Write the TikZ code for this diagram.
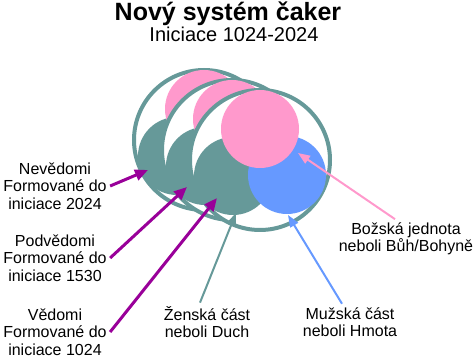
\documentclass[tikz,border=0pt]{standalone}
\usepackage{fontspec}
\setmainfont{Liberation Sans}
\usetikzlibrary{positioning,arrows.meta}
\definecolor{RingTeal}{HTML}{669999}
\definecolor{SoulPink}{HTML}{FF99CC}
\definecolor{MatterBlue}{HTML}{6699FF}
\definecolor{LayerPurple}{HTML}{990099}

\begin{document}
\begin{tikzpicture}[x=1pt,y=-1pt,
    every node/.style={font=\fontsize{16}{17.5}\selectfont, align=center},
    layer/.style={draw=LayerPurple, line width=3pt, -{Triangle[length=13pt,width=11pt]}},
    part/.style={line width=2pt, -{Triangle[length=12pt,width=9pt]}}]
  \useasboundingbox (0,0) rectangle (475,358);

  % title
  \node[font=\bfseries\fontsize{25}{28}\selectfont, anchor=base] (title) at (228,21) {Nový systém čaker};
  \node[font=\fontsize{20}{22}\selectfont, anchor=base] (subtitle) at (234,42) {Iniciace 1024-2024};

  % three chakra systems, back to front
  \foreach \cx/\cy in {204/140, 232/150, 260/160}{
    \draw[RingTeal, fill=white, line width=4pt] (\cx,\cy) circle[radius=70];
    \fill[RingTeal] (\cx-27,\cy+16) circle[radius=39];
    \fill[MatterBlue] (\cx+27,\cy+15) circle[radius=39];
    \fill[SoulPink] (\cx,\cy-31) circle[radius=39];
  }

  % labels
  \node (nev) at (55,186) {Nevědomi\\Formované do\\iniciace 2024};
  \node (pod) at (55,258) {Podvědomi\\Formované do\\iniciace 1530};
  \node (ved) at (55,332) {Vědomi\\Formované do\\iniciace 1024};
  \node (zen) at (207,322) {Ženská část\\neboli Duch};
  \node (muz) at (350,322) {Mužská část\\neboli Hmota};
  \node (boz) at (406,239) {Božská jednota\\neboli Bůh/Bohyně};

  \coordinate (nevtip) at (148,170);
  \coordinate (podtip) at (187,187);
  \coordinate (vedtip) at (217,198);
  \coordinate (zentip) at (236,213);
  \coordinate (muztip) at (288,215);
  \coordinate (boztip) at (298,153);

  % arrows
  \draw[layer] (nev.east) -- (nevtip);
  \draw[layer] (pod.east) -- (podtip);
  \draw[layer] (ved.east) -- (vedtip);
  \draw[part, RingTeal] ([xshift=-7pt]zen.north) -- (zentip);
  \draw[part, MatterBlue] ([xshift=-8pt]muz.north) -- (muztip);
  \draw[part, SoulPink] ([xshift=-11pt]boz.north) -- (boztip);
\end{tikzpicture}
\end{document}
